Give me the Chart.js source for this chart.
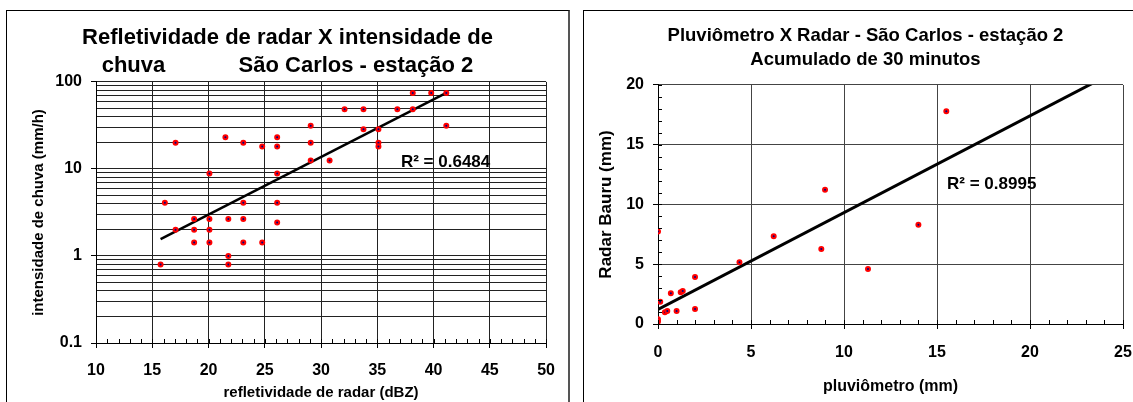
<!DOCTYPE html>
<html>
<head>
<meta charset="utf-8">
<script src="https://cdn.jsdelivr.net/npm/chart.js@4.4.1/dist/chart.umd.min.js"></script>
<style>
  html, body { margin: 0; padding: 0; background: #fff; overflow: hidden; width: 1133px; height: 402px; }
  .frame { position: absolute; top: 10px; height: 400px; border-top: 1px solid #000; border-left: 1px solid #000; }
  #frameLeft { left: 6px; width: 561px; border-right: 2px solid #555; }
  #frameRight { left: 583px; width: 563px; }
  canvas { display: block; }
</style>
</head>
<body>
<div class="frame" id="frameLeft"><canvas id="reflectChart" width="561" height="391"></canvas></div>
<div class="frame" id="frameRight"><canvas id="gaugeChart" width="563" height="391"></canvas></div>

<script>
// Refletividade (dBZ) x intensidade de chuva (mm/h) - estação 2
const dbz = [15.74, 16.12, 17.07, 17.07, 18.72, 18.72, 18.72, 20.08, 20.08, 20.08, 20.08,
  21.5, 21.76, 21.76, 21.76, 23.09, 23.09, 23.09, 23.09, 24.77, 24.77,
  26.1, 26.1, 26.1, 26.1, 26.1, 29.08, 29.08, 29.08, 30.76, 32.09, 33.77, 33.77,
  35.1, 35.1, 35.1, 36.78, 38.15, 38.15, 39.79, 41.13, 41.13];
const intensity = [0.8, 4.1, 20, 2.0, 2.66, 2.0, 1.43, 8.85, 2.66, 2.0, 1.43,
  23.1, 2.66, 1.0, 0.8, 20, 4.1, 2.66, 1.43, 18.1, 1.43,
  23.1, 18.1, 8.85, 4.1, 2.42, 31.5, 20, 12.5, 12.5, 48.5, 48.5, 28.6,
  28.6, 20, 18.1, 48.5, 74.8, 48.5, 74.8, 74.8, 31.5];

// exponential trend: y = a * e^(b x)
const reflectTrendX = [15.74, 41.13];
const reflectTrendA = 0.1417;
const reflectTrendB = 0.1525;
const reflectR2 = 'R² = 0.6484';

const reflectXTicks = [10, 15, 20, 25, 30, 35, 40, 45, 50];
const reflectYMajor = [0.1, 1, 10, 100];

// Pluviômetro x Radar Bauru (mm), acumulado de 30 minutos
const gauge = [0, 0, 0, 0.12, 0.37, 0.5, 0.69, 1.0, 1.22, 1.33, 1.99, 1.99, 4.38, 6.22, 8.78, 8.98, 11.29, 14.0, 15.5];
const radar = [7.73, 0.39, 0.2, 1.87, 0.98, 1.09, 2.57, 1.09, 2.65, 2.76, 3.93, 1.26, 5.16, 7.34, 6.28, 11.24, 4.6, 8.31, 17.8];

// linear trend
const gaugeTrendX = [0, 25];
const gaugeTrendSlope = 0.81;
const gaugeTrendIntercept = 1.22;
const gaugeR2 = 'R² = 0.8995';

const gaugeXTicks = [0, 5, 10, 15, 20, 25];
const gaugeYTicks = [0, 5, 10, 15, 20];

Chart.defaults.font.family = "'Liberation Sans', Arial, sans-serif";
Chart.defaults.font.weight = 'bold';
Chart.defaults.color = '#000';

// small inside ticks between the labelled ones
const minorTicks = {
  id: 'minorTicks',
  afterDraw(chart, args, opts) {
    const ctx = chart.ctx;
    ctx.save();
    ctx.strokeStyle = '#000';
    ctx.lineWidth = 1;
    if (opts.xStep) {
      const sx = chart.scales.x;
      for (let v = sx.min; v <= sx.max + 1e-9; v += opts.xStep) {
        const px = Math.round(sx.getPixelForValue(v)) + 0.5;
        ctx.beginPath();
        ctx.moveTo(px, sx.top);
        ctx.lineTo(px, sx.top - 4);
        ctx.stroke();
      }
    }
    if (opts.yStep) {
      const sy = chart.scales.y;
      for (let v = sy.min; v <= sy.max + 1e-9; v += opts.yStep) {
        const py = Math.round(sy.getPixelForValue(v)) + 0.5;
        ctx.beginPath();
        ctx.moveTo(sy.right, py);
        ctx.lineTo(sy.right + 4, py);
        ctx.stroke();
      }
    }
    ctx.restore();
  }
};

// R² text placed at a data position
const r2Label = {
  id: 'r2Label',
  afterDraw(chart, args, opts) {
    const ctx = chart.ctx;
    ctx.save();
    ctx.font = "bold 17px 'Liberation Sans', Arial, sans-serif";
    ctx.fillStyle = '#000';
    ctx.textAlign = 'left';
    ctx.textBaseline = 'middle';
    ctx.fillText(opts.text, chart.scales.x.getPixelForValue(opts.x), chart.scales.y.getPixelForValue(opts.y));
    ctx.restore();
  }
};

// empty right-hand axis, only keeps a margin right of the plot
// (layout padding would shift the centred title)
const spacerAxis = (w) => ({
  position: 'right',
  display: true,
  grid: { display: false, drawTicks: false },
  border: { display: false },
  ticks: { display: false },
  afterFit: (scale) => { scale.width = w; }
});

// ---------- left chart ----------
const reflectPoints = dbz.map((x, i) => ({ x: x, y: intensity[i] }));
const reflectTrend = reflectTrendX.map(x => ({ x: x, y: reflectTrendA * Math.exp(reflectTrendB * x) }));

const reflectYTickValues = [];
reflectYMajor.slice(0, -1).forEach(d => {
  for (let m = 1; m <= 9; m++) reflectYTickValues.push(Number((d * m).toPrecision(3)));
});
reflectYTickValues.push(reflectYMajor[reflectYMajor.length - 1]);

new Chart(document.getElementById('reflectChart'), {
  type: 'scatter',
  data: {
    datasets: [
      {
        data: reflectPoints,
        pointRadius: 2,
        pointBorderWidth: 2,
        pointBackgroundColor: '#000080',
        pointBorderColor: '#ff0000'
      },
      {
        data: reflectTrend,
        showLine: true,
        pointRadius: 0,
        borderColor: '#000',
        borderWidth: 2.5
      }
    ]
  },
  options: {
    responsive: false,
    devicePixelRatio: 1,
    animation: false,
    layout: { padding: 0 },
    plugins: {
      legend: { display: false },
      tooltip: { enabled: false },
      title: {
        display: true,
        text: ['Refletividade de radar X intensidade de', 'chuva            São Carlos - estação 2'],
        font: { size: 22, weight: 'bold', lineHeight: 1.2727 },
        padding: { top: 13, bottom: 2 },
        color: '#000'
      },
      minorTicks: { xStep: 1 },
      r2Label: { text: reflectR2, x: 37.1, y: 11.9 }
    },
    scales: {
      x: {
        type: 'linear',
        min: 10,
        max: 50,
        afterBuildTicks: (scale) => { scale.ticks = reflectXTicks.map(v => ({ value: v })); },
        afterFit: (scale) => { scale.height = 59; },
        ticks: { font: { size: 16, weight: 'bold' }, padding: 13, maxRotation: 0 },
        grid: { color: '#222', lineWidth: 1, tickLength: 5, tickColor: '#000' },
        border: { color: '#000', width: 1 },
        title: {
          display: true,
          text: 'refletividade de radar (dBZ)',
          font: { size: 15, weight: 'bold' },
          padding: { top: 0, bottom: 0 }
        }
      },
      y: {
        type: 'logarithmic',
        min: 0.1,
        max: 100,
        afterBuildTicks: (scale) => { scale.ticks = reflectYTickValues.map(v => ({ value: v })); },
        afterFit: (scale) => { scale.width = 89; },
        ticks: {
          autoSkip: false,
          font: { size: 16, weight: 'bold' },
          padding: 9,
          callback: (v) => reflectYMajor.includes(v) ? String(v) : ''
        },
        grid: {
          color: '#222',
          lineWidth: 1,
          tickLength: 5,
          tickColor: (c) => (c.tick && reflectYMajor.includes(c.tick.value)) ? '#000' : 'rgba(0,0,0,0)'
        },
        border: { color: '#000', width: 1 },
        title: {
          display: true,
          text: 'intensidade de chuva (mm/h)',
          font: { size: 15, weight: 'bold' },
          padding: { top: 23, bottom: 0 }
        }
      },
      spacer: spacerAxis(21)
    }
  },
  plugins: [minorTicks, r2Label]
});

// ---------- right chart ----------
const gaugePoints = gauge.map((x, i) => ({ x: x, y: radar[i] }));
const gaugeTrend = gaugeTrendX.map(x => ({ x: x, y: gaugeTrendSlope * x + gaugeTrendIntercept }));

new Chart(document.getElementById('gaugeChart'), {
  type: 'scatter',
  data: {
    datasets: [
      {
        data: gaugePoints,
        pointRadius: 2,
        pointBorderWidth: 2,
        pointBackgroundColor: '#000080',
        pointBorderColor: '#ff0000'
      },
      {
        data: gaugeTrend,
        showLine: true,
        pointRadius: 0,
        borderColor: '#000',
        borderWidth: 3
      }
    ]
  },
  options: {
    responsive: false,
    devicePixelRatio: 1,
    animation: false,
    layout: { padding: 0 },
    plugins: {
      legend: { display: false },
      tooltip: { enabled: false },
      title: {
        display: true,
        text: ['Pluviômetro X Radar - São Carlos - estação 2', 'Acumulado de 30 minutos'],
        font: { size: 18.5, weight: 'bold', lineHeight: 1.297 },
        padding: { top: 13, bottom: 13 },
        color: '#000'
      },
      minorTicks: { xStep: 1, yStep: 1 },
      r2Label: { text: gaugeR2, x: 15.54, y: 11.7 }
    },
    scales: {
      x: {
        type: 'linear',
        min: 0,
        max: 25,
        afterBuildTicks: (scale) => { scale.ticks = gaugeXTicks.map(v => ({ value: v })); },
        afterFit: (scale) => { scale.height = 78; },
        ticks: { font: { size: 16, weight: 'bold' }, padding: 14, maxRotation: 0 },
        grid: { color: '#444', lineWidth: 1, tickLength: 5, tickColor: '#000' },
        border: { color: '#000', width: 1 },
        title: {
          display: true,
          text: 'pluviômetro (mm)',
          font: { size: 16, weight: 'bold' },
          padding: { top: 0, bottom: 6 }
        }
      },
      y: {
        type: 'linear',
        min: 0,
        max: 20,
        afterBuildTicks: (scale) => { scale.ticks = gaugeYTicks.map(v => ({ value: v })); },
        afterFit: (scale) => { scale.width = 74; },
        ticks: { font: { size: 16, weight: 'bold' }, padding: 9 },
        grid: { color: '#444', lineWidth: 1, tickLength: 5, tickColor: '#000' },
        border: { color: '#000', width: 1 },
        title: {
          display: true,
          text: 'Radar Bauru (mm)',
          font: { size: 17, weight: 'bold' },
          padding: { top: 12, bottom: 0 }
        }
      },
      spacer: spacerAxis(24)
    }
  },
  plugins: [minorTicks, r2Label]
});
</script>
</body>
</html>
